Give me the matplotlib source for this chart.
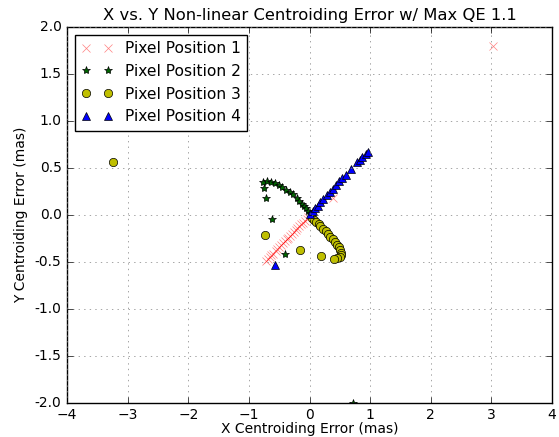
import matplotlib
matplotlib.use("Agg")
import matplotlib.pyplot as plt

plt.style.use("classic")

# pixel position 1 (red x)
x1 = [-0.72, -0.69, -0.66, -0.63, -0.60, -0.56, -0.53, -0.50, -0.47, -0.44, -0.41, -0.38,
      -0.35, -0.32, -0.29, -0.26, -0.23, -0.20, -0.17, -0.14, -0.11, -0.08, -0.05, -0.02,
      0.39, 3.03]
y1 = [-0.49, -0.47, -0.45, -0.43, -0.41, -0.38, -0.36, -0.34, -0.32, -0.30, -0.28, -0.26,
      -0.24, -0.22, -0.20, -0.18, -0.16, -0.14, -0.12, -0.10, -0.08, -0.06, -0.04, -0.02,
      0.18, 1.80]

# pixel position 2 (green stars)
x2 = [-0.76, -0.71, -0.64, -0.57, -0.51, -0.45, -0.39, -0.32, -0.27, -0.21, -0.17, -0.12,
      -0.09, -0.06, -0.02, 0.0, -0.75, -0.72, -0.62, -0.40, 0.72]
y2 = [0.35, 0.36, 0.35, 0.34, 0.32, 0.30, 0.27, 0.24, 0.22, 0.18, 0.15, 0.12,
      0.10, 0.07, 0.04, 0.02, 0.29, 0.18, -0.04, -0.41, -2.0]

# pixel position 3 (yellow circles)
x3 = [0.04, 0.07, 0.11, 0.15, 0.18, 0.23, 0.27, 0.31, 0.34, 0.38, 0.42, 0.45, 0.48, 0.50,
      0.52, 0.52, 0.51, 0.46, 0.40, -0.73, -0.16, 0.19, -3.25]
y3 = [-0.03, -0.05, -0.07, -0.10, -0.12, -0.15, -0.17, -0.20, -0.23, -0.26, -0.29, -0.32,
      -0.34, -0.37, -0.40, -0.43, -0.45, -0.46, -0.47, -0.21, -0.37, -0.44, 0.56]

# pixel position 4 (blue triangles)
x4 = [0.01, 0.05, 0.09, 0.14, 0.18, 0.23, 0.28, 0.33, 0.38, 0.43, 0.49, 0.54, 0.60, 0.69,
      0.78, 0.84, 0.87, 0.93, 0.97, -0.57]
y4 = [0.01, 0.04, 0.07, 0.10, 0.14, 0.17, 0.21, 0.24, 0.28, 0.32, 0.36, 0.39, 0.43, 0.49,
      0.56, 0.59, 0.62, 0.65, 0.67, -0.53]

fig = plt.figure(figsize=(5.59, 4.37), dpi=100, facecolor="white")
ax = fig.add_axes([0.12, 0.078, 0.8675, 0.86])

ax.plot(x1, y1, "rx", alpha=0.5, label="Pixel Position 1")
ax.plot(x2, y2, "*", color="darkgreen", label="Pixel Position 2")
ax.plot(x3, y3, "yo", label="Pixel Position 3")
ax.plot(x4, y4, "b^", label="Pixel Position 4")

ax.set_xlim(-4, 4)
ax.set_ylim(-2, 2)
ax.set_xticks(range(-4, 5))
ax.set_yticks([-2.0, -1.5, -1.0, -0.5, 0.0, 0.5, 1.0, 1.5, 2.0])
ax.set_yticklabels(["%.1f" % v for v in [-2.0, -1.5, -1.0, -0.5, 0.0, 0.5, 1.0, 1.5, 2.0]])
ax.tick_params(labelsize=10)
ax.grid(True, color="0.5", linestyle=":")

ax.set_title("X vs. Y Non-linear Centroiding Error w/ Max QE 1.1", fontsize=11.8)
ax.set_xlabel("X Centroiding Error (mas)", fontsize=10, labelpad=0)
ax.set_ylabel("Y Centroiding Error (mas)", fontsize=10)
ax.legend(loc="upper left", fontsize=11.2, numpoints=2)

fig.savefig("out.png", dpi=100, facecolor="white")
